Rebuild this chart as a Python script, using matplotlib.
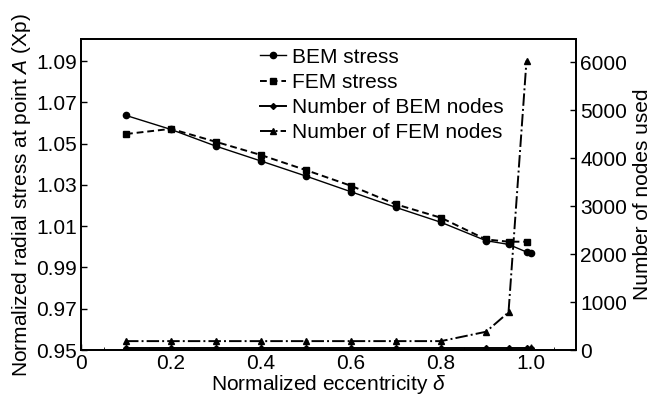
import matplotlib
matplotlib.use("Agg")
import matplotlib.pyplot as plt
from matplotlib.ticker import MultipleLocator

plt.rcParams['font.family'] = ['Liberation Sans', 'DejaVu Sans']
plt.rcParams['mathtext.fontset'] = 'custom'
plt.rcParams['mathtext.it'] = 'Liberation Sans:italic'
plt.rcParams['mathtext.rm'] = 'Liberation Sans'

ecc_bem = [0.1, 0.2, 0.3, 0.4, 0.5, 0.6, 0.7, 0.8, 0.9, 0.95, 0.99, 1.0]
bem_stress = [1.0637, 1.0569, 1.0488, 1.0416, 1.0343, 1.0267, 1.0191, 1.0119, 1.0030, 1.0012, 0.9975, 0.9968]
ecc_fem = [0.1, 0.2, 0.3, 0.4, 0.5, 0.6, 0.7, 0.8, 0.9, 0.95, 0.99]
fem_stress = [1.0547, 1.0572, 1.0509, 1.0445, 1.0372, 1.0296, 1.0206, 1.0141, 1.0036, 1.0025, 1.0025]
bem_nodes = [40, 40, 40, 40, 40, 40, 40, 40, 40, 40, 40, 40]
fem_nodes = [185, 185, 185, 185, 185, 185, 185, 185, 380, 785, 6030]

fig = plt.figure(figsize=(6.55, 4.0), dpi=100)
ax = fig.add_axes([0.1237, 0.125, 0.7557, 0.7767])
ax2 = ax.twinx()

l1, = ax.plot(ecc_bem, bem_stress, '-', color='black', marker='o', ms=4.5, lw=1.0)
l2, = ax.plot(ecc_fem, fem_stress, '--', color='black', marker='s', ms=5, lw=1.4, dashes=(3.5, 2))
l3, = ax2.plot(ecc_bem, bem_nodes, '-', color='black', marker='D', ms=3, lw=1.4)
l4, = ax2.plot(ecc_fem, fem_nodes, '-.', color='black', marker='^', ms=5, lw=1.4)

ax.set_xlim(0, 1.1)
ax.set_ylim(0.95, 1.1006)
ax2.set_ylim(0, 6473)
ax.set_xticks([0, 0.2, 0.4, 0.6, 0.8, 1.0])
ax.set_xticklabels(['0', '0.2', '0.4', '0.6', '0.8', '1.0'])
ax.xaxis.set_minor_locator(MultipleLocator(0.05))
ax.set_yticks([0.95, 0.97, 0.99, 1.01, 1.03, 1.05, 1.07, 1.09])
ax.set_yticklabels(['0.95', '0.97', '0.99', '1.01', '1.03', '1.05', '1.07', '1.09'])
ax2.set_yticks([0, 1000, 2000, 3000, 4000, 5000, 6000])

for a in (ax, ax2):
    a.tick_params(direction='in', labelsize=15, length=4, width=1, pad=3)
    a.tick_params(which='minor', direction='in', length=2.5)
    for s in a.spines.values():
        s.set_linewidth(1.3)
ax.tick_params(axis='x', pad=3)

ax.set_xlabel(r'Normalized eccentricity $\delta$', fontsize=15, labelpad=0)
ax.set_ylabel(r'Normalized radial stress at point $A$ (Xp)', fontsize=15, labelpad=2)
ax2.set_ylabel('Number of nodes used', fontsize=15, labelpad=4)

ax2.legend([l1, l2, l3, l4], ['BEM stress', 'FEM stress', 'Number of BEM nodes', 'Number of FEM nodes'],
           loc='upper left', bbox_to_anchor=(0.344, 1.0), frameon=False, fontsize=15,
           handlelength=1.25, handletextpad=0.3, labelspacing=0.3, borderaxespad=0.0)

fig.savefig('out.png', dpi=100)
